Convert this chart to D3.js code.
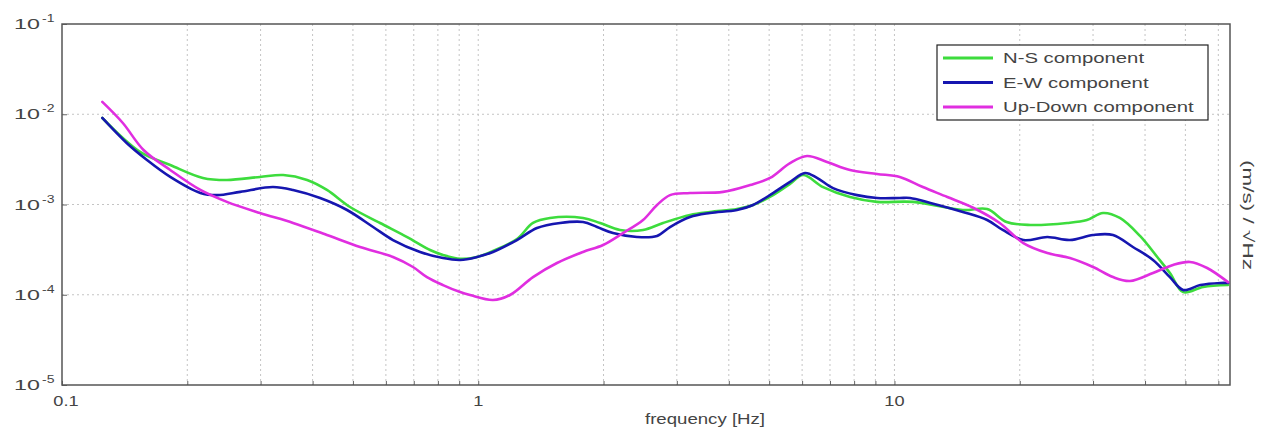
<!DOCTYPE html>
<html>
<head>
<meta charset="utf-8">
<script src="https://cdn.jsdelivr.net/npm/d3@7"></script>
<style>
  html, body { margin: 0; padding: 0; background: #fff; }
  svg { display: block; font-family: "Liberation Sans", Arial, Helvetica, sans-serif; }
</style>
</head>
<body>
<svg id="chart" width="1267" height="430"></svg>
<script>
// ---------- data (frequency [Hz], amplitude) ----------
const seriesNames = ["N-S component", "E-W component", "Up-Down component"];
const seriesColors = ["#3ddc3d", "#1616b0", "#e02ee0"];

const nsData = [[0.125,0.00909],[0.154,0.00382],[0.182,0.00274],[0.218,0.00197],[0.249,0.00187],[0.299,0.00202],[0.340,0.00212],[0.388,0.00187],[0.433,0.00145],[0.492,0.000938],[0.581,0.000624],[0.675,0.000436],[0.766,0.000313],[0.823,0.000276],[0.905,0.00025],[0.993,0.000262],[1.085,0.000305],[1.239,0.000415],[1.354,0.000624],[1.487,0.000709],[1.786,0.000709],[1.962,0.000624],[2.191,0.000522],[2.489,0.000522],[2.780,0.000624],[3.228,0.000765],[3.605,0.000826],[4.186,0.00089],[4.574,0.000987],[5.109,0.00127],[5.613,0.00169],[6.032,0.00212],[6.739,0.00156],[7.823,0.00121],[9.08,0.00107],[11.08,0.00107],[14.6,0.000869],[16.7,0.00089],[18.6,0.00064],[21.2,0.000593],[26.0,0.000624],[29.0,0.000673],[31.7,0.000805],[34.8,0.000709],[38.9,0.000448],[42.8,0.000262],[45.9,0.000174],[49.4,0.000107],[55.2,0.000122],[63.3,0.000128]];

const ewData = [[0.125,0.00909],[0.143,0.0048],[0.160,0.00311],[0.182,0.00202],[0.215,0.00134],[0.236,0.00127],[0.268,0.00138],[0.321,0.00156],[0.359,0.00145],[0.417,0.00118],[0.484,0.000869],[0.559,0.000563],[0.624,0.000404],[0.725,0.000298],[0.823,0.000255],[0.905,0.000243],[0.993,0.000262],[1.085,0.000298],[1.239,0.000404],[1.384,0.000549],[1.573,0.000624],[1.786,0.00064],[1.930,0.000563],[2.108,0.000483],[2.407,0.000436],[2.689,0.000448],[2.889,0.000563],[3.228,0.000727],[3.605,0.000805],[4.186,0.000869],[4.574,0.000987],[5.109,0.00134],[5.613,0.00178],[6.099,0.00223],[6.516,0.00197],[7.12,0.00152],[8.13,0.00127],[9.08,0.00118],[10.3,0.00118],[10.9,0.00118],[12.2,0.00104],[14.6,0.000826],[16.7,0.000673],[18.2,0.000522],[20.4,0.000404],[23.3,0.000436],[26.4,0.000404],[30.0,0.000459],[33.5,0.000459],[37.4,0.000338],[41.8,0.000243],[45.9,0.000157],[49.4,0.000113],[54.3,0.000128],[60.6,0.000135],[63.3,0.000135]];

const udData = [[0.125,0.0137],[0.140,0.0080],[0.157,0.00402],[0.182,0.00241],[0.215,0.00145],[0.249,0.00107],[0.299,0.000805],[0.359,0.000624],[0.433,0.000459],[0.520,0.000338],[0.624,0.000262],[0.697,0.000203],[0.753,0.000157],[0.823,0.000128],[0.905,0.000107],[0.956,0.0000994],[1.085,0.0000875],[1.192,0.0000994],[1.354,0.000157],[1.546,0.000225],[1.786,0.000298],[1.995,0.000356],[2.228,0.000483],[2.489,0.000673],[2.689,0.000987],[2.889,0.00127],[3.228,0.00134],[3.875,0.00138],[4.499,0.00164],[5.025,0.00197],[5.613,0.00288],[6.166,0.00345],[6.887,0.00296],[7.823,0.00241],[9.08,0.00218],[10.3,0.00202],[11.7,0.00156],[13.4,0.00121],[15.5,0.000915],[17.9,0.000624],[20.4,0.000374],[23.3,0.00029],[26.4,0.000255],[30.0,0.000203],[33.5,0.000157],[36.8,0.000142],[41.8,0.000174],[46.7,0.000214],[51.3,0.000231],[56.4,0.000198],[63.3,0.000138]];

const xTickValues = [0.1, 1, 10];
const xTickLabels = ["0.1", "1", "10"];
const yTickValues = [1e-1, 1e-2, 1e-3, 1e-4, 1e-5];
const yTickExponents = ["-1", "-2", "-3", "-4", "-5"];
const xDomain = [0.1, 64];
const yDomain = [1e-5, 1e-1];
const xLabel = "frequency [Hz]";
const yLabel = "(m/s) / \u221AHz";

(function () {
const svg = d3.select("#chart");
const pL = 62, pR = 1230, pT = 24, pB = 385;

// the reference text is horizontally stretched; mimic with textLength
function stretch(sel, factor) {
  sel.each(function () {
    const w = this.getComputedTextLength();
    d3.select(this).attr("textLength", w * factor).attr("lengthAdjust", "spacingAndGlyphs");
  });
}

const x = d3.scaleLog().domain(xDomain).range([pL, pR]);
const y = d3.scaleLog().domain(yDomain).range([pB, pT]);

const xGrid = [];
for (let d = 0.1; d < 100; d *= 10) {
  for (let m = 1; m <= 9; m++) {
    const v = +(d * m).toPrecision(3);
    if (v > xDomain[0] && v < xDomain[1]) xGrid.push(v);
  }
}
const yGrid = [1e-2, 1e-3, 1e-4];

const grid = svg.append("g").attr("class", "grid");
grid.selectAll("line.vx").data(xGrid).enter().append("line")
  .attr("x1", d => x(d)).attr("x2", d => x(d))
  .attr("y1", pT).attr("y2", pB)
  .attr("stroke", "#c4c4c4").attr("stroke-width", 1)
  .attr("stroke-dasharray", "2,3");
grid.selectAll("line.hy").data(yGrid).enter().append("line")
  .attr("x1", pL).attr("x2", pR)
  .attr("y1", d => y(d)).attr("y2", d => y(d))
  .attr("stroke", "#c4c4c4").attr("stroke-width", 1)
  .attr("stroke-dasharray", "2,3");

const xAxis = d3.axisBottom(x).tickValues(xGrid.concat([0.1])).tickSize(-4).tickFormat("");
const gx = svg.append("g").attr("transform", `translate(0,${pB})`).call(xAxis);
gx.select(".domain").remove();
gx.selectAll(".tick line").attr("stroke", "#666");

const yAxis = d3.axisLeft(y).tickValues(yTickValues).tickSize(-5).tickFormat("");
const gy = svg.append("g").attr("transform", `translate(${pL},0)`).call(yAxis);
gy.select(".domain").remove();
gy.selectAll(".tick line").attr("stroke", "#666");

svg.append("rect").attr("x", pL).attr("y", pT)
  .attr("width", pR - pL).attr("height", pB - pT)
  .attr("fill", "none").attr("stroke", "#555").attr("stroke-width", 1.5);

// x tick labels
const xt = svg.selectAll("text.xt").data(xTickValues).enter().append("text")
  .attr("class", "xt")
  .attr("x", (d, i) => x(d) + (i === 0 ? 4 : 0))
  .attr("y", 406)
  .attr("text-anchor", "middle")
  .attr("font-size", 14).attr("fill", "#444")
  .text((d, i) => xTickLabels[i]);
stretch(xt, 1.3);

// y tick labels: 10^exp
const ytBase = svg.selectAll("text.ytb").data(yTickValues).enter().append("text")
  .attr("class", "ytb")
  .attr("x", 40).attr("y", d => y(d) + 5)
  .attr("text-anchor", "end")
  .attr("font-size", 15).attr("fill", "#444")
  .text("10");
stretch(ytBase, 1.55);
const ytExp = svg.selectAll("text.yte").data(yTickValues).enter().append("text")
  .attr("class", "yte")
  .attr("x", 42).attr("y", d => y(d) - 2)
  .attr("text-anchor", "start")
  .attr("font-size", 10).attr("fill", "#444")
  .text((d, i) => yTickExponents[i]);
stretch(ytExp, 1.4);

// axis labels
const xl = svg.append("text").attr("x", 705).attr("y", 424)
  .attr("text-anchor", "middle").attr("font-size", 14).attr("fill", "#444")
  .text(xLabel);
stretch(xl, 1.33);
const yl = svg.append("text")
  .attr("transform", `translate(1243,215) rotate(90)`)
  .attr("text-anchor", "middle").attr("font-size", 15).attr("fill", "#444")
  .text(yLabel);
stretch(yl, 1.5);

// lines
const line = d3.line()
  .x(d => x(d[0])).y(d => y(d[1]))
  .curve(d3.curveCatmullRom.alpha(0.5));

const allSeries = [nsData, ewData, udData];
svg.append("g").selectAll("path").data(allSeries).enter().append("path")
  .attr("d", line)
  .attr("fill", "none")
  .attr("stroke", (d, i) => seriesColors[i])
  .attr("stroke-width", 2.6)
  .attr("stroke-linejoin", "round")
  .attr("stroke-linecap", "round");

// legend
const lg = svg.append("g").attr("transform", "translate(937,45)");
lg.append("rect").attr("width", 271).attr("height", 75)
  .attr("fill", "#fff").attr("stroke", "#222").attr("stroke-width", 1.2);
const items = lg.selectAll("g.item").data(seriesNames).enter().append("g")
  .attr("transform", (d, i) => `translate(0,${13 + i * 24.5})`);
items.append("line").attr("x1", 6).attr("x2", 56).attr("y1", 0).attr("y2", 0)
  .attr("stroke", (d, i) => seriesColors[i]).attr("stroke-width", 2.8);
const lt = items.append("text").attr("x", 66).attr("y", 5)
  .attr("font-size", 14).attr("fill", "#444")
  .text(d => d);
stretch(lt, 1.45);
})();
</script>
</body>
</html>
